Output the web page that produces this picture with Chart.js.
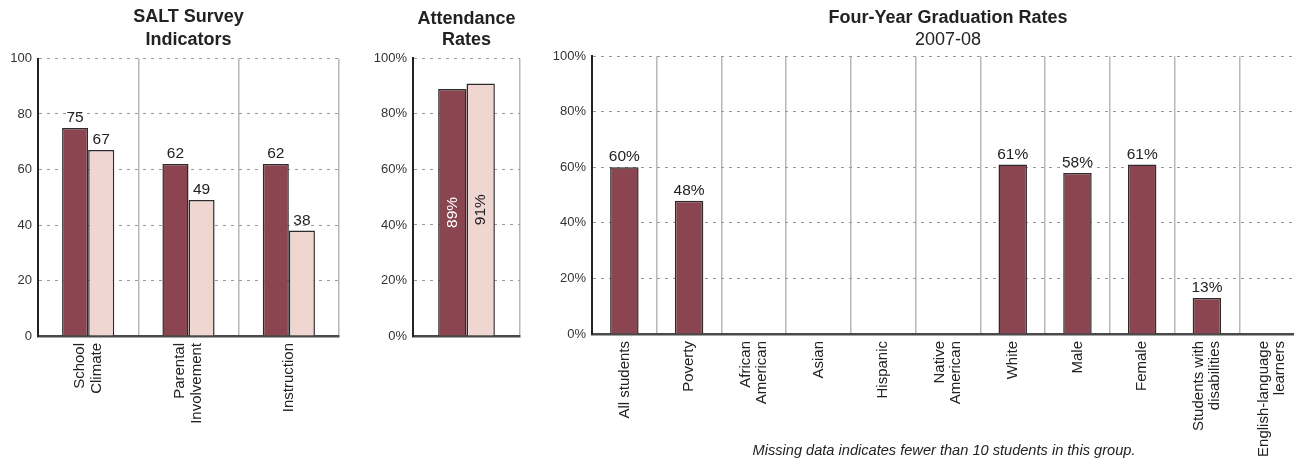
<!DOCTYPE html>
<html>
<head>
<meta charset="utf-8">
<script src="https://cdn.jsdelivr.net/npm/chart.js@4.4.1/dist/chart.umd.min.js"></script>
<style>
  html, body { margin: 0; padding: 0; background: #fff; overflow: hidden; }
  body { width: 1294px; height: 459px; position: relative; }
  canvas { position: absolute; top: 0; }
  #salt { left: 0; }
  #attendance { left: 350px; }
  #grad { left: 540px; }
  #note {
    position: absolute; left: 944px; top: 442px; transform: translateX(-50%);
    font: italic 14.6px/16px "Liberation Sans", Arial, sans-serif; color: #222; white-space: nowrap;
  }
</style>
</head>
<body>
<canvas id="salt" width="345" height="459"></canvas>
<canvas id="attendance" width="180" height="459"></canvas>
<canvas id="grad" width="770" height="459"></canvas>
<div id="note">Missing data indicates fewer than 10 students in this group.</div>
<script>
const FONT = "'Liberation Sans', Arial, sans-serif";
const DARK = "#8b4550";
const LIGHT = "#f0d6d0";
const EDGE = "#2b2b2b";

// SALT survey
const saltCategories = [["School", "Climate"], ["Parental", "Involvement"], ["Instruction"]];
const saltSchool = [75, 62, 62];
const saltComparison = [67, 49, 38];

// attendance
const attendanceCategories = [""];
const attendanceSchool = [89];
const attendanceComparison = [91];

// graduation
const gradCategories = [
  ["All students"], ["Poverty"], ["African", "American"], ["Asian"], ["Hispanic"],
  ["Native", "American"], ["White"], ["Male"], ["Female"],
  ["Students with", "disabilities"], ["English-language", "learners"]
];
const gradRates = [60, 48, null, null, null, null, 61, 58, 61, 13, null];

const yTicks = [0, 20, 40, 60, 80, 100];

Chart.defaults.font.family = FONT;
Chart.defaults.color = "#333";

// numbers on / above the bars
const valueLabels = {
  id: "valueLabels",
  afterDatasetsDraw(chart, args, opts) {
    const ctx = chart.ctx;
    chart.data.datasets.forEach((ds, di) => {
      chart.getDatasetMeta(di).data.forEach((bar, i) => {
        const v = ds.data[i];
        if (v == null) return;
        const text = v + (opts.suffix || "");
        ctx.save();
        ctx.font = "15.5px " + FONT;
        ctx.fillStyle = "#222";
        if (opts.inside) {
          const yMid = chart.scales.y.getPixelForValue(v / 2);
          ctx.translate(bar.x, yMid);
          ctx.rotate(-Math.PI / 2);
          ctx.textAlign = "center";
          ctx.textBaseline = "middle";
          ctx.fillStyle = ds.labelColor;
          ctx.fillText(text, 0, 0);
        } else {
          ctx.textAlign = "center";
          ctx.textBaseline = "alphabetic";
          ctx.fillText(text, bar.x, bar.y - 6);
        }
        ctx.restore();
      });
    });
  }
};

// vertical category labels, multi-line block centred on the tick
const rotatedLabels = {
  id: "rotatedLabels",
  afterDraw(chart, args, opts) {
    if (!opts.show) return;
    const xs = chart.scales.x;
    const ctx = chart.ctx;
    ctx.save();
    ctx.font = "15px " + FONT;
    ctx.fillStyle = "#222";
    ctx.textAlign = "right";
    ctx.textBaseline = "middle";
    chart.data.labels.forEach((lab, i) => {
      const lines = [].concat(lab);
      const px = xs.getPixelForValue(i);
      lines.forEach((line, j) => {
        const off = (j - (lines.length - 1) / 2) * 16.5;
        ctx.save();
        ctx.translate(px + off, xs.top + 7);
        ctx.rotate(-Math.PI / 2);
        ctx.fillText(line, 0, 0);
        ctx.restore();
      });
    });
    ctx.restore();
  }
};

function makeOptions(cfg) {
  return {
    responsive: false,
    animation: false,
    layout: { padding: { top: 0, left: 0, right: cfg.padRight, bottom: 0 } },
    plugins: {
      legend: { display: false },
      tooltip: { enabled: false },
      title: {
        display: true,
        text: cfg.title,
        fullSize: false,
        color: "#222",
        font: { size: 18, weight: "bold", lineHeight: cfg.titleLine },
        padding: { top: cfg.titleTop, bottom: cfg.titleBottom }
      },
      subtitle: cfg.subtitle ? {
        display: true,
        text: cfg.subtitle,
        fullSize: false,
        color: "#222",
        font: { size: 18, lineHeight: 1.2 },
        padding: { top: 1, bottom: 5 }
      } : { display: false },
      valueLabels: { suffix: cfg.suffix, inside: cfg.inside },
      rotatedLabels: { show: true }
    },
    scales: {
      x: {
        ticks: { display: false },
        grid: { color: "#b8b8b8", lineWidth: 1.5, offset: true, drawTicks: false },
        border: { color: "#4a4a4a", width: 2.5 },
        afterFit: (s) => { s.height = cfg.xHeight; }
      },
      y: {
        min: 0,
        max: 100,
        afterBuildTicks: (s) => { s.ticks = yTicks.map((v) => ({ value: v })); },
        ticks: {
          padding: 6,
          font: { size: 13 },
          color: "#333",
          callback: (v) => v + cfg.suffix
        },
        grid: { color: "#9a9a9a", lineWidth: 1, drawTicks: false },
        border: { color: "#222", width: 2, dash: [3, 5] },
        afterFit: (s) => { s.width = cfg.yWidth; }
      }
    }
  };
}

const saltChart = new Chart(document.getElementById("salt").getContext("2d"), {
  type: "bar",
  data: {
    labels: saltCategories,
    datasets: [
      { data: saltSchool, backgroundColor: DARK, borderColor: EDGE, borderWidth: 1.5,
        categoryPercentage: 0.52, barPercentage: 1 },
      { data: saltComparison, backgroundColor: LIGHT, borderColor: EDGE, borderWidth: 1.5,
        categoryPercentage: 0.52, barPercentage: 1 }
    ]
  },
  options: makeOptions({
    title: ["SALT Survey", "Indicators"], titleLine: 1.25, titleTop: 6, titleBottom: 7.5,
    suffix: "", inside: false, yWidth: 38, xHeight: 123, padRight: 6
  }),
  plugins: [valueLabels, rotatedLabels]
});

const attendanceChart = new Chart(document.getElementById("attendance").getContext("2d"), {
  type: "bar",
  data: {
    labels: attendanceCategories,
    datasets: [
      { data: attendanceSchool, backgroundColor: DARK, borderColor: EDGE, borderWidth: 1.5,
        categoryPercentage: 0.53, barPercentage: 1, labelColor: "#fff" },
      { data: attendanceComparison, backgroundColor: LIGHT, borderColor: EDGE, borderWidth: 1.5,
        categoryPercentage: 0.53, barPercentage: 1, labelColor: "#222" }
    ]
  },
  options: makeOptions({
    title: ["Attendance", "Rates"], titleLine: 1.15, titleTop: 9, titleBottom: 8,
    suffix: "%", inside: true, yWidth: 63, xHeight: 123, padRight: 10
  }),
  plugins: [valueLabels, rotatedLabels]
});

const gradChart = new Chart(document.getElementById("grad").getContext("2d"), {
  type: "bar",
  data: {
    labels: gradCategories,
    datasets: [
      { data: gradRates, backgroundColor: DARK, borderColor: EDGE, borderWidth: 1.5,
        categoryPercentage: 0.44, barPercentage: 1 }
    ]
  },
  options: makeOptions({
    title: "Four-Year Graduation Rates", subtitle: "2007-08", titleLine: 1.2, titleTop: 7, titleBottom: 0,
    suffix: "%", inside: false, yWidth: 52, xHeight: 125, padRight: 6
  }),
  plugins: [valueLabels, rotatedLabels]
});
</script>
</body>
</html>
